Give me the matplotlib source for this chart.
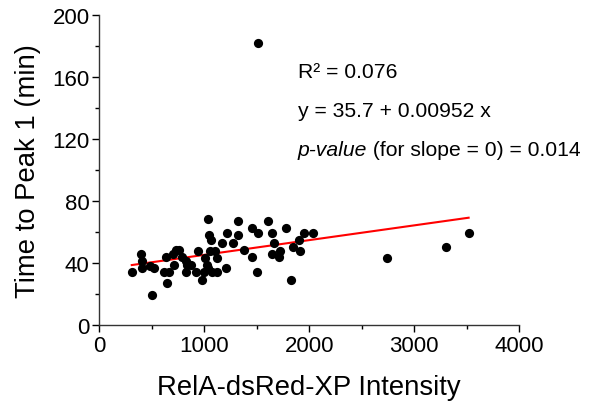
import numpy as np
import matplotlib
matplotlib.use("Agg")
import matplotlib.pyplot as plt
from matplotlib.ticker import MultipleLocator

plt.rcParams['font.family'] = ['Liberation Sans', 'DejaVu Sans']

# RelA-dsRed-XP intensity vs time to first peak
intensity = [309, 394, 404, 410, 483, 521, 499, 619, 632, 642, 667, 711, 705,
             730, 762, 785, 826, 838, 870, 826, 918, 943, 981, 997, 1007, 1023,
             1038, 1038, 1045, 1064, 1054, 1070, 1102, 1118, 1124, 1166, 1204,
             1219, 1276, 1318, 1324, 1378, 1451, 1454, 1499, 1511, 1610, 1642,
             1642, 1664, 1721, 1711, 1778, 1823, 1842, 1902, 1911, 1952, 2032,
             1514, 2737, 3305, 3518]
time_to_peak = [34.2, 45.8, 41.1, 36.8, 37.8, 36.8, 19.5, 34.2, 43.6, 27.1, 34.2,
                38.9, 45.8, 48.2, 48.2, 43.6, 41.5, 38.9, 38.9, 34.2, 34.2, 47.9,
                29.2, 34.2, 43.2, 38.9, 36.8, 68.6, 57.8, 55.0, 47.9, 34.2, 47.9,
                34.2, 43.2, 52.9, 36.8, 59.4, 52.9, 67.3, 57.8, 48.6, 62.6, 43.6,
                34.2, 59.4, 67.3, 59.4, 45.8, 52.9, 47.9, 43.6, 62.6, 29.2, 50.1,
                55.0, 47.9, 59.4, 59.4,
                181.7, 43.4, 50.3, 59.4]

intercept = 35.7
slope = 0.00952
fit_x = [min(intensity), max(intensity)]

fig = plt.figure(figsize=(6.02, 4.10), dpi=100)
ax = fig.add_axes([0.165, 0.205, 0.6975, 0.756])

ax.scatter(intensity, time_to_peak, s=44, color='black', zorder=3, linewidths=0)
fx = np.array(fit_x, dtype=float)
ax.plot(fx, intercept + slope * fx, color='red', linewidth=1.5, zorder=2)

ax.set_xlim(0, 4000)
ax.set_ylim(0, 200)
ax.xaxis.set_major_locator(MultipleLocator(1000))
ax.xaxis.set_minor_locator(MultipleLocator(500))
ax.yaxis.set_major_locator(MultipleLocator(40))
ax.yaxis.set_minor_locator(MultipleLocator(20))
ax.tick_params(which='major', direction='out', length=5, width=1, labelsize=16, pad=2)
ax.tick_params(which='minor', direction='out', length=3, width=1)

for side in ('top', 'right'):
    ax.spines[side].set_visible(False)
for side in ('left', 'bottom'):
    ax.spines[side].set_color('#333333')
    ax.spines[side].set_linewidth(1)

ax.set_xlabel('RelA-dsRed-XP Intensity', fontsize=19.8, labelpad=13)
ax.set_ylabel('Time to Peak 1 (min)', fontsize=19.8, labelpad=8)

fs = 15.2
fig.text(0.495, 0.809, 'R² = 0.076', fontsize=fs, va='baseline')
fig.text(0.495, 0.714, 'y = 35.7 + 0.00952 x', fontsize=fs, va='baseline')
pv = fig.text(0.495, 0.6195, 'p-value', fontsize=fs, va='baseline', style='italic')
fig.canvas.draw()
bb = pv.get_window_extent().transformed(fig.transFigure.inverted())
fig.text(bb.x1, 0.6195, ' (for slope = 0) = 0.014', fontsize=fs, va='baseline')

fig.savefig('out.png', dpi=100)
